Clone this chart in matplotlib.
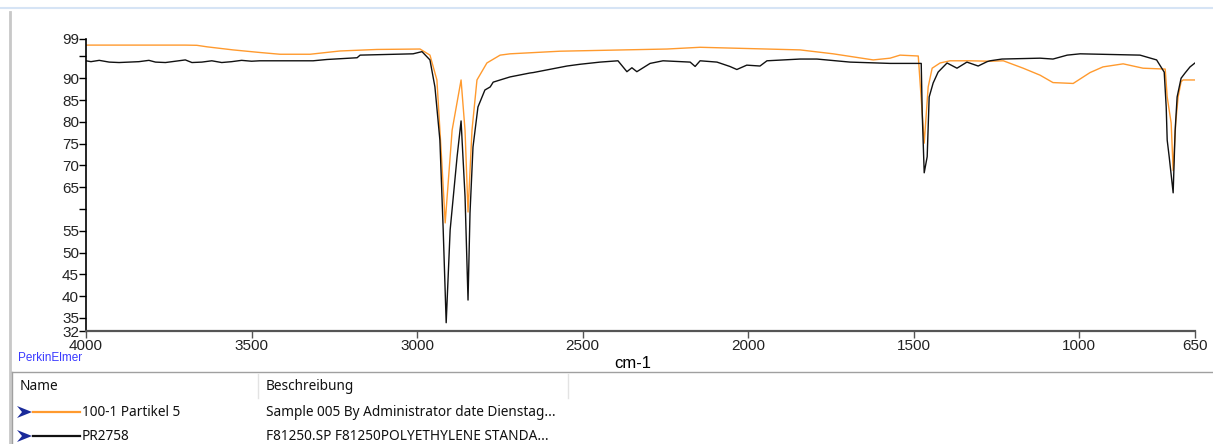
import matplotlib
matplotlib.use("Agg")
import matplotlib.pyplot as plt
from matplotlib.lines import Line2D
from matplotlib.patches import Polygon

# sample spectrum (orange): wavenumber cm-1, %T
wn_orange = [4000, 3700, 3665, 3634, 3556, 3474, 3414, 3323, 3233, 3121, 2991,
             2961, 2940, 2925, 2915, 2894, 2867, 2855, 2846, 2834, 2819, 2789,
             2749, 2719, 2568, 2245, 2145, 1843, 1743, 1622, 1571, 1541, 1486,
             1474, 1468, 1456, 1444, 1420, 1390, 1330, 1269, 1229, 1169, 1118,
             1079, 1018, 967, 928, 867, 807, 740, 734, 722, 716, 708, 701, 692,
             686, 650]
t_orange = [97.6, 97.6, 97.55, 97.2, 96.5, 95.9, 95.5, 95.5, 96.25, 96.6, 96.7,
            95.3, 89.6, 70.5, 56.8, 78.1, 89.6, 78.0, 59.3, 78.1, 89.6, 93.5,
            95.3, 95.6, 96.2, 96.7, 97.1, 96.5, 95.6, 94.2, 94.6, 95.3, 95.1,
            82.0, 75.1, 88.0, 92.3, 93.5, 94.0, 94.0, 93.9, 94.0, 92.3, 90.7,
            89.0, 88.8, 91.3, 92.6, 93.3, 92.3, 92.1, 85.7, 79.7, 68.8, 80.0,
            85.7, 89.2, 89.6, 89.6]

# polyethylene standard PR2758 (black)
wn_black = [4000, 3985, 3960, 3930, 3900, 3870, 3840, 3810, 3790, 3760, 3730,
            3700, 3680, 3650, 3620, 3590, 3560, 3530, 3500, 3475, 3314, 3272,
            3181, 3172, 3012, 2985, 2961, 2946, 2931, 2921, 2912, 2900, 2879,
            2867, 2855, 2846, 2840, 2831, 2816, 2795, 2779, 2770, 2749, 2719,
            2659, 2649, 2547, 2508, 2447, 2393, 2366, 2351, 2336, 2296, 2257,
            2175, 2160, 2145, 2094, 2055, 2034, 2004, 1964, 1943, 1843, 1792,
            1692, 1571, 1477, 1474, 1468, 1459, 1453, 1441, 1426, 1399, 1369,
            1339, 1305, 1278, 1269, 1233, 1118, 1079, 1036, 997, 816, 766, 743,
            737, 734, 728, 716, 710, 704, 692, 680, 665, 650]
t_black = [94.0, 93.8, 94.1, 93.7, 93.6, 93.7, 93.8, 94.1, 93.7, 93.6, 93.9,
           94.2, 93.6, 93.7, 94.0, 93.6, 93.8, 94.1, 93.9, 94.0, 94.0, 94.3,
           94.7, 95.3, 95.6, 96.1, 94.2, 88.0, 75.8, 55.2, 33.9, 55.2, 72.0,
           80.2, 62.8, 39.1, 59.1, 74.2, 83.4, 87.3, 88.0, 89.1, 89.6, 90.3,
           91.2, 91.3, 92.8, 93.2, 93.7, 94.0, 91.5, 92.4, 91.5, 93.4, 94.0,
           93.7, 92.7, 94.0, 93.7, 92.7, 92.0, 93.0, 92.8, 94.0, 94.4, 94.4,
           93.7, 93.4, 93.4, 82.0, 68.3, 72.0, 85.7, 88.9, 91.4, 93.5, 92.3,
           93.7, 92.8, 93.8, 94.0, 94.4, 94.6, 94.4, 95.3, 95.6, 95.3, 94.2, 91.4,
           83.4, 75.8, 72.0, 63.7, 78.0, 85.7, 90.0, 91.2, 92.6, 93.5]

y_ticks = [99, 95, 90, 85, 80, 75, 70, 65, 60, 55, 50, 45, 40, 35, 32]
y_labels = ['99', '', '90', '85', '80', '75', '70', '65', '', '55', '50',
            '45', '40', '35', '32']
x_ticks = [4000, 3500, 3000, 2500, 2000, 1500, 1000, 650]

names = ['100-1 Partikel 5', 'PR2758']
descriptions = ['Sample 005 By Administrator date Dienstag...',
                'F81250.SP F81250POLYETHYLENE STANDA...']
colors = ['#ff9a2e', '#111111']

W, H = 1213, 444
fig = plt.figure(figsize=(W / 100, H / 100), dpi=100)


def fx(px):
    return px / W


def fy(py):
    return 1 - py / H


ax = fig.add_axes([fx(86), fy(331), fx(1195 - 86), (331 - 39) / H])
ax.plot(wn_orange, t_orange, color=colors[0], lw=1.0)
ax.plot(wn_black, t_black, color=colors[1], lw=1.0)

ax.set_xlim(4000, 650)
ax.set_ylim(32, 99)
ax.set_yticks(y_ticks)
ax.set_yticklabels(y_labels)
ax.set_xticks(x_ticks)
ax.set_xticklabels([str(v) for v in x_ticks])
for lab in ax.get_xticklabels() + ax.get_yticklabels():
    lab.set_fontfamily('Liberation Sans')
    lab.set_fontsize(11)
    lab.set_color('#222222')
ax.tick_params(axis='y', length=5, width=1, pad=0, direction='out')
ax.tick_params(axis='x', length=5, width=1, pad=1, direction='out',
               color='#555555')
ax.spines['top'].set_visible(False)
ax.spines['right'].set_visible(False)
ax.spines['left'].set_linewidth(1.2)
ax.spines['bottom'].set_linewidth(1.6)
ax.spines['bottom'].set_color('#555555')
ax.set_xlabel('cm-1', fontfamily='Liberation Sans', fontsize=12,
              labelpad=0)
ax.xaxis.set_label_coords((633 - 86) / (1195 - 86), -0.085)

fig.text(fx(18), fy(358), 'PerkinElmer', color='#3a3aff', fontsize=8.5,
         fontfamily='Liberation Sans', va='center', ha='left')

# window frame
fig.add_artist(Line2D([fx(0), fx(W)], [fy(8), fy(8)], color='#d6e4f5', lw=1.5))
fig.add_artist(Line2D([fx(10), fx(10)], [fy(12), fy(H)], color='#c8c8c8', lw=2))
fig.add_artist(Line2D([fx(12), fx(W)], [fy(372), fy(372)], color='#a0a0a0', lw=1))
fig.add_artist(Line2D([fx(12), fx(12)], [fy(372), fy(H)], color='#a0a0a0', lw=1))
for xs in (258, 568):
    fig.add_artist(Line2D([fx(xs), fx(xs)], [fy(374), fy(398)],
                          color='#e3e3e3', lw=1))

# legend table
tf = dict(fontfamily='Noto Sans', fontsize=9.8, va='center', ha='left',
          color='#111111')
fig.text(fx(20), fy(386), 'Name', **tf)
fig.text(fx(266), fy(386), 'Beschreibung', **tf)
for i, (nm, desc, c) in enumerate(zip(names, descriptions, colors)):
    yc = 412 + i * 24
    arrow = [(17, yc - 6), (32, yc), (17, yc + 6), (22, yc)]
    fig.add_artist(Polygon([(fx(a), fy(b)) for a, b in arrow], closed=True,
                           facecolor='#1a2a9a', edgecolor='none'))
    fig.add_artist(Line2D([fx(33), fx(80)], [fy(yc), fy(yc)], color=c, lw=1.6))
    fig.text(fx(82), fy(yc), nm, **tf)
    fig.text(fx(266), fy(yc), desc, **tf)

fig.savefig('out.png', dpi=100)
